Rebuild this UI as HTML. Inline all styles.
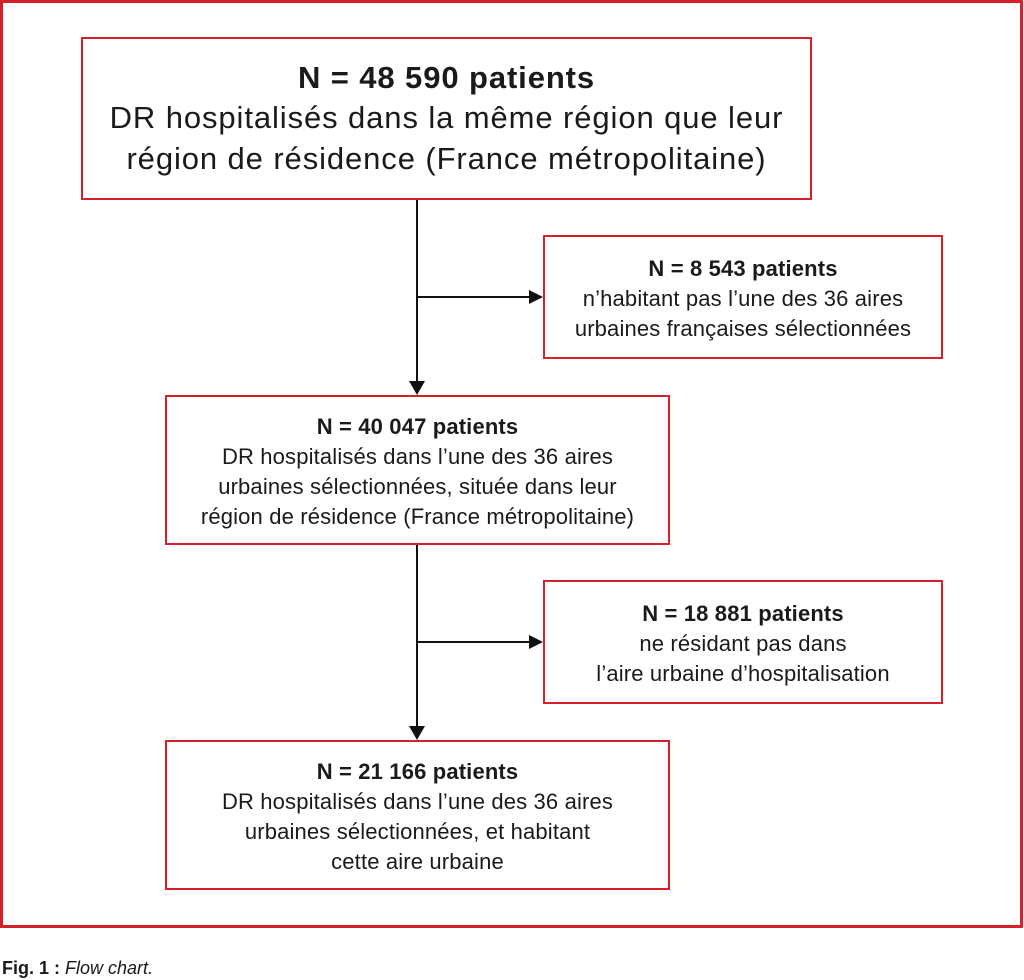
<!DOCTYPE html>
<html><head><meta charset="utf-8"><style>
body{margin:0;width:1024px;height:980px;background:#fff;position:relative;overflow:hidden;font-family:"Liberation Sans",sans-serif;color:#1a1a1a}
.b{position:absolute;box-sizing:border-box;border:2px solid #d7202b;display:flex;flex-direction:column;justify-content:center;align-items:center;text-align:center;white-space:nowrap}
.s{font-size:22px;line-height:30px;letter-spacing:0.15px;padding-top:4px}
.t{font-size:31px;line-height:40.5px;letter-spacing:0.9px}
b{font-weight:bold}
svg{position:absolute;left:0;top:0}
</style></head><body>
<div style="position:absolute;left:0;top:0;width:1023px;height:928px;box-sizing:border-box;border:3px solid #d7202b"></div>
<div class="b t" style="left:81px;top:37px;width:731px;height:163px"><b>N = 48 590 patients</b>DR hospitalisés dans la même région que leur<br>région de résidence (France métropolitaine)</div>
<div class="b s" style="left:543px;top:235px;width:400px;height:124px"><b>N = 8 543 patients</b>n’habitant pas l’une des 36 aires<br>urbaines françaises sélectionnées</div>
<div class="b s" style="left:165px;top:395px;width:505px;height:150px"><b>N = 40 047 patients</b>DR hospitalisés dans l’une des 36 aires<br>urbaines sélectionnées, située dans leur<br>région de résidence (France métropolitaine)</div>
<div class="b s" style="left:543px;top:580px;width:400px;height:124px"><b>N = 18 881 patients</b>ne résidant pas dans<br>l’aire urbaine d’hospitalisation</div>
<div class="b s" style="left:165px;top:740px;width:505px;height:150px"><b>N = 21 166 patients</b>DR hospitalisés dans l’une des 36 aires<br>urbaines sélectionnées, et habitant<br>cette aire urbaine</div>
<svg width="1024" height="980">
<g stroke="#111" stroke-width="2" fill="none">
<line x1="417" y1="200" x2="417" y2="382"/>
<line x1="417" y1="297" x2="530" y2="297"/>
<line x1="417" y1="545" x2="417" y2="727"/>
<line x1="417" y1="642" x2="530" y2="642"/>
</g>
<g fill="#111">
<polygon points="409,381 425,381 417,395"/>
<polygon points="529,290 529,304 543,297"/>
<polygon points="409,726 425,726 417,740"/>
<polygon points="529,635 529,649 543,642"/>
</g>
</svg>
<div style="position:absolute;left:2px;top:957px;font-size:18px;line-height:22px"><b>Fig. 1 :</b> <i>Flow chart.</i></div>
</body></html>
